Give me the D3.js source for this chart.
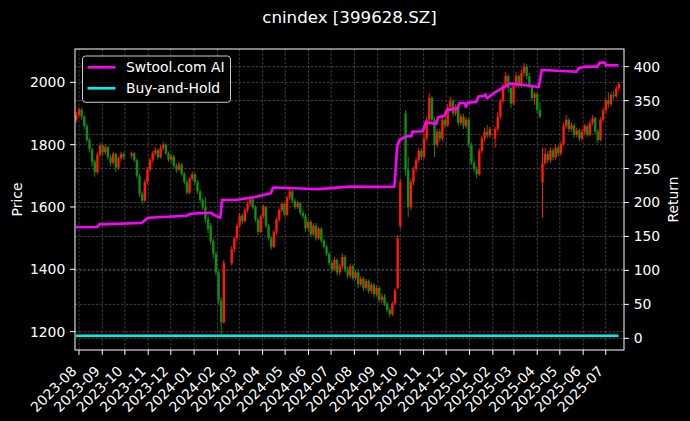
<!DOCTYPE html>
<html><head><meta charset="utf-8">
<script src="https://cdn.jsdelivr.net/npm/d3@7"></script>
<style>html,body{margin:0;padding:0;background:#000;} svg{display:block;font-family:"DejaVu Sans",sans-serif;}</style>
</head><body><svg id="chart" width="690" height="421"></svg>
<script>
const titleText = "cnindex [399628.SZ]";
const leftLabel = "Price";
const rightLabel = "Return";
const seriesNames = ["Swtool.com AI", "Buy-and-Hold"];
const firstWeek = "2023-07-24"; // Monday of the first week; two half-week candles per week
const priceTicks = [1200, 1400, 1600, 1800, 2000];
const returnTicks = [0, 50, 100, 150, 200, 250, 300, 350, 400];

const opens = [
 null,1880, 1895,1912, 1890,1860, 1815,1785, 1745,1712, 1768,1798, 1776,1792, 1760,1742,
 1770,1726, 1756,1770, null,null, 1765,1772, 1750,1700, 1642,1620, 1680,1720, 1750,1772,
 1782,1760, 1790,1800, 1772,1752, 1762,1732, 1720,1736, 1706,1680, 1646,1690, 1705,1680,
 1650,1622, 1600,1560, 1540,1490, 1450,1390, 1300,1230, null,null, 1420,1465, 1500,1540,
 1572,1555, 1590,1610, 1625,1600, 1560,1520, 1570,1600, 1540,1500, 1472,1520, 1560,1590,
 1610,1575, 1630,1650, 1620,1600, 1612,1582, 1570,1532, 1552,1512, 1540,1500, 1530,1492,
 1472,1450, 1420,1400, 1430,1390, 1410,1440, 1400,1380, 1410,1372, 1390,1352, 1370,1340,
 1362,1330, 1350,1320, 1340,1302, 1312,1290, 1270,1256, 1290,1340, 1540,null, 1900,1720,
 1600,1680, 1722,1750, 1780,1760, 1820,1880, 1950,1880, 1800,1842, 1820,1880, 1862,1920,
 1940,1900, 1920,1870, 1890,1860, 1880,1800, 1742,1722, 1705,1780, 1820,1842, 1830,null,
 1820,1850, 1890,1940, 1990,2020, 1982,1932, 1990,2020, 1990,2030, 2050,2020, 1990,1950,
 1962,1912, 1680,1740, 1770,1750, 1782,1760, 1790,1772, 1802,1860, 1880,1850, 1862,1832,
 1846,1820, 1840,1860, 1832,1870, 1885,1842, 1815,1880, 1910,1942, 1930,1960, 1955,1980
];
const highs = [
 null,1905, 1920,1918, 1895,1868, 1822,1790, 1752,1775, 1806,1802, 1800,1797, 1768,1778,
 1774,1762, 1778,1776, null,null, 1778,1776, 1755,1706, 1650,1688, 1728,1758, 1780,1792,
 1788,1798, 1808,1804, 1778,1770, 1768,1740, 1745,1742, 1712,1686, 1696,1712, 1710,1686,
 1656,1628, 1632,1575, 1549,1500, 1458,1395, 1310,1430, null,null, 1475,1505, 1548,1581,
 1580,1596, 1618,1632, 1630,1606, 1566,1576, 1607,1604, 1546,1508, 1526,1566, 1596,1613,
 1614,1636, 1658,1655, 1628,1620, 1616,1590, 1578,1560, 1558,1548, 1549,1536, 1536,1498,
 1480,1456, 1426,1440, 1436,1418, 1450,1446, 1408,1418, 1416,1398, 1396,1378, 1376,1370,
 1368,1358, 1356,1348, 1346,1322, 1320,1296, 1278,1296, 1340,1510, 1690,null, 1911,1760,
 1690,1730, 1760,1790, 1788,1837, 1890,1965, 1956,1888, 1850,1850, 1892,1911, 1930,1953,
 1946,1930, 1926,1900, 1898,1888, 1886,1806, 1750,1730, 1788,1828, 1855,1863, 1858,null,
 1858,1905, 1948,1998, 2033,2026, 1988,1998, 2033,2025, 2040,2062, 2058,2030, 1996,1970,
 1968,1936, 1790,1790, 1780,1792, 1790,1800, 1798,1810, 1870,1895, 1885,1872, 1868,1855,
 1852,1850, 1866,1864, 1878,1895, 1890,1850, 1888,1920, 1950,1968, 1968,1972, 1990,2000
];
const lows = [
 null,1872, 1888,1880, 1850,1808, 1775,1730, 1697,1705, 1760,1765, 1768,1752, 1730,1736,
 1712,1720, 1748,1752, null,null, 1756,1745, 1692,1632, 1607,1615, 1672,1712, 1742,1765,
 1752,1755, 1783,1765, 1745,1742, 1725,1710, 1714,1700, 1672,1639, 1642,1684, 1672,1642,
 1612,1590, 1548,1516, 1480,1437, 1380,1285, 1190,1225, null,null, 1412,1455, 1490,1532,
 1545,1550, 1582,1602, 1592,1552, 1510,1515, 1564,1532, 1492,1462, 1468,1512, 1552,1584,
 1568,1570, 1622,1612, 1592,1594, 1575,1562, 1520,1524, 1504,1506, 1492,1494, 1484,1466,
 1442,1412, 1390,1394, 1380,1382, 1402,1392, 1370,1372, 1364,1365, 1340,1344, 1330,1334,
 1322,1322, 1310,1312, 1294,1292, 1282,1262, 1247,1250, 1285,1335, 1530,null, 1700,1568,
 1590,1670, 1712,1742, 1750,1755, 1812,1872, 1870,1760, 1790,1808, 1812,1852, 1857,1910,
 1890,1892, 1860,1862, 1850,1852, 1790,1735, 1712,1693, 1700,1772, 1812,1820, 1822,null,
 1790,1842, 1882,1932, 1982,1972, 1918,1926, 1982,1980, 1982,2020, 2010,1981, 1940,1927,
 1902,1885, 1565,1735, 1740,1742, 1750,1752, 1762,1765, 1796,1852, 1840,1842, 1822,1824,
 1810,1812, 1832,1825, 1828,1862, 1834,1805, 1810,1872, 1902,1918, 1922,1945, 1950,1972
];
const closes = [
 null,1895, 1912,1890, 1860,1815, 1785,1745, 1712,1768, 1798,1776, 1792,1760, 1742,1770,
 1726,1756, 1770,1760, null,null, 1772,1750, 1700,1642, 1620,1680, 1720,1750, 1772,1782,
 1760,1790, 1800,1772, 1752,1762, 1732,1720, 1736,1706, 1680,1646, 1690,1705, 1680,1650,
 1622,1600, 1560,1530, 1490,1450, 1390,1300, 1230,1420, null,null, 1465,1500, 1540,1572,
 1555,1590, 1610,1625, 1600,1560, 1520,1570, 1600,1540, 1500,1472, 1520,1560, 1590,1610,
 1575,1630, 1650,1620, 1600,1612, 1582,1570, 1532,1552, 1512,1540, 1500,1530, 1492,1472,
 1450,1420, 1400,1430, 1390,1410, 1440,1400, 1380,1410, 1372,1390, 1352,1370, 1340,1362,
 1330,1350, 1320,1340, 1302,1312, 1290,1270, 1256,1290, 1332,1500, 1680,null, 1720,1600,
 1680,1722, 1750,1780, 1760,1820, 1880,1950, 1880,1800, 1842,1820, 1880,1862, 1920,1940,
 1900,1920, 1870,1890, 1860,1880, 1800,1742, 1722,1705, 1780,1820, 1842,1830, 1850,null,
 1850,1890, 1940,1990, 2020,1982, 1932,1990, 2020,1990, 2030,2050, 2020,1990, 1950,1962,
 1912,1890, 1740,1770, 1750,1782, 1760,1790, 1772,1802, 1860,1880, 1850,1862, 1832,1846,
 1820,1840, 1860,1832, 1870,1885, 1842,1815, 1880,1910, 1942,1930, 1960,1955, 1980,1995
];

const aiDates = ["2023-07-28","2023-08-25","2023-08-28","2023-10-23","2023-10-27","2023-11-01","2023-12-22","2023-12-27",
 "2024-01-15","2024-01-23","2024-01-26","2024-02-01","2024-02-05","2024-02-07","2024-02-27","2024-03-22","2024-04-12",
 "2024-04-15","2024-05-14","2024-06-13","2024-07-05","2024-07-26","2024-08-23","2024-09-23","2024-09-24","2024-09-25",
 "2024-09-26","2024-09-27","2024-09-30","2024-10-08","2024-10-16","2024-10-17","2024-10-31","2024-11-04","2024-11-18",
 "2024-11-20","2024-11-29","2024-12-02","2024-12-16","2024-12-19","2024-12-26","2024-12-27","2024-12-30","2025-01-10",
 "2025-01-13","2025-01-20","2025-01-22","2025-01-24","2025-02-05","2025-02-24","2025-03-13","2025-04-03","2025-04-07",
 "2025-05-23","2025-05-26","2025-06-03","2025-06-20","2025-06-23","2025-06-30","2025-07-01","2025-07-18"];
const aiReturns = [163.5,163.8,167.8,169.7,173,177.5,180.5,183.5,
 184.5,185,183,179,178,203.6,204,208,213.5,
 222,221,219.5,221.5,223.5,223,223.2,236,252,
 268,283,292,297,298,304.2,305,318,316,
 325,328,336,338.6,346.9,346,341,347,348,
 356,357,359.2,353.3,363,375,373,370,395,
 392.5,397.5,400,400,406,406,402,402];

const bhDates = ["2023-07-28","2024-01-02","2024-07-01","2025-01-02","2025-07-18"];
const bhReturns = [3.8, 3.8, 3.8, 3.8, 3.8];

const parse = d3.timeParse("%Y-%m-%d");
const svg = d3.select("#chart");
const W = 690, H = 421;
const L = 75, R = 624, T = 49, B = 350;

svg.append("rect").attr("width", W).attr("height", H).attr("fill", "#000");

const x = d3.scaleTime()
  .domain([new Date(2023, 6, 26, 17), new Date(2025, 6, 25, 7)])
  .range([L, R]);
const yP = d3.scaleLinear().domain([1141, 2107]).range([B, T]);
const yR = d3.scaleLinear().domain([-17.2, 426]).range([B, T]);

// grid
const grid = svg.append("g").attr("stroke", "#5a5a5a").attr("stroke-width", 0.7).attr("stroke-dasharray", "2.6,1.6");
const monthTicks = d3.timeMonth.range(new Date(2023, 7, 1), new Date(2025, 7, 1));
monthTicks.forEach(d => grid.append("line").attr("x1", x(d)).attr("x2", x(d)).attr("y1", T).attr("y2", B));
priceTicks.forEach(v => grid.append("line").attr("x1", L).attr("x2", R).attr("y1", yP(v)).attr("y2", yP(v)));
returnTicks.forEach(v => grid.append("line").attr("x1", L).attr("x2", R).attr("y1", yR(v)).attr("y2", yR(v)));

// candles
svg.append("defs").append("clipPath").attr("id", "clip")
  .append("rect").attr("x", L).attr("y", T).attr("width", R - L).attr("height", B - T);
const candles = [];
const w0 = parse(firstWeek);
for (let i = 0; i < closes.length; i++) {
  if (closes[i] == null) continue;
  const wk = Math.floor(i / 2);
  const monday = d3.timeDay.offset(w0, 7 * wk);
  const center = new Date(monday.getTime() + (i % 2 === 0 ? 1 : 4.5) * 864e5);
  candles.push({ date: center, o: opens[i], h: highs[i], l: lows[i], c: closes[i] });
}
const cg = svg.append("g").attr("clip-path", "url(#clip)");
const upC = "#ff1a00", dnC = "#0f8f0f";
cg.selectAll("line.wick").data(candles).join("line")
  .attr("x1", d => x(d.date)).attr("x2", d => x(d.date))
  .attr("y1", d => yP(d.h)).attr("y2", d => yP(d.l))
  .attr("stroke", d => d.c >= d.o ? upC : dnC).attr("stroke-width", 1);
cg.selectAll("rect.body").data(candles).join("rect")
  .attr("x", d => x(d.date) - 1.2).attr("width", 2.4)
  .attr("y", d => yP(Math.max(d.o, d.c)))
  .attr("height", d => Math.max(0.8, Math.abs(yP(d.o) - yP(d.c))))
  .attr("fill", d => d.c >= d.o ? upC : dnC);

// return lines
const lineR = d3.line().x(d => x(d[0])).y(d => yR(d[1]));
cg.append("path").datum(bhDates.map((d, i) => [parse(d), bhReturns[i]]))
  .attr("d", lineR).attr("fill", "none").attr("stroke", "#00f0f0").attr("stroke-width", 2.6);
cg.append("path").datum(aiDates.map((d, i) => [parse(d), aiReturns[i]]))
  .attr("d", lineR).attr("fill", "none").attr("stroke", "#ff00ff").attr("stroke-width", 2.6)
  .attr("stroke-linejoin", "round");

// spines
svg.append("rect").attr("x", L).attr("y", T).attr("width", R - L).attr("height", B - T)
  .attr("fill", "none").attr("stroke", "#fff").attr("stroke-width", 1);

const fs = 13.9;
// left axis
const la = svg.append("g");
priceTicks.forEach(v => {
  la.append("line").attr("x1", L - 4.9).attr("x2", L).attr("y1", yP(v)).attr("y2", yP(v)).attr("stroke", "#fff");
  la.append("text").attr("x", L - 9.7).attr("y", yP(v)).attr("dy", "0.36em").attr("text-anchor", "end")
    .attr("fill", "#fff").attr("font-size", fs).text(v);
});
// right axis
returnTicks.forEach(v => {
  la.append("line").attr("x1", R).attr("x2", R + 4.9).attr("y1", yR(v)).attr("y2", yR(v)).attr("stroke", "#fff");
  la.append("text").attr("x", R + 9.7).attr("y", yR(v)).attr("dy", "0.36em").attr("text-anchor", "start")
    .attr("fill", "#fff").attr("font-size", fs).text(v);
});
// bottom axis
const fmt = d3.timeFormat("%Y-%m");
monthTicks.forEach(d => {
  const xx = x(d);
  la.append("line").attr("x1", xx).attr("x2", xx).attr("y1", B).attr("y2", B + 4.9).attr("stroke", "#fff");
  la.append("text").attr("transform", `translate(${xx - 1.5},${B + 22}) rotate(-45)`)
    .attr("text-anchor", "end").attr("fill", "#fff").attr("font-size", fs).text(fmt(d));
});

// labels
svg.append("text").attr("transform", `translate(22,${(T + B) / 2}) rotate(-90)`).attr("text-anchor", "middle")
  .attr("fill", "#fff").attr("font-size", fs).text(leftLabel);
svg.append("text").attr("transform", `translate(678,${(T + B) / 2}) rotate(-90)`).attr("text-anchor", "middle")
  .attr("fill", "#fff").attr("font-size", fs).text(rightLabel);
svg.append("text").attr("x", (L + R) / 2).attr("y", 23).attr("text-anchor", "middle")
  .attr("fill", "#fff").attr("font-size", 16.67).text(titleText);

// legend
const lg = svg.append("g");
lg.append("rect").attr("x", 82.5).attr("y", 56).attr("width", 148).attr("height", 46.3).attr("rx", 3)
  .attr("fill", "#000").attr("fill-opacity", 0.8).attr("stroke", "#cccccc").attr("stroke-width", 1);
const lcol = ["#ff00ff", "#00f0f0"];
seriesNames.forEach((n, i) => {
  const yy = 67.3 + i * 21;
  lg.append("line").attr("x1", 87.5).attr("x2", 115.5).attr("y1", yy).attr("y2", yy)
    .attr("stroke", lcol[i]).attr("stroke-width", 2.6);
  lg.append("text").attr("x", 126).attr("y", yy).attr("dy", "0.36em").attr("fill", "#fff")
    .attr("font-size", fs).text(n);
});
</script></body></html>
